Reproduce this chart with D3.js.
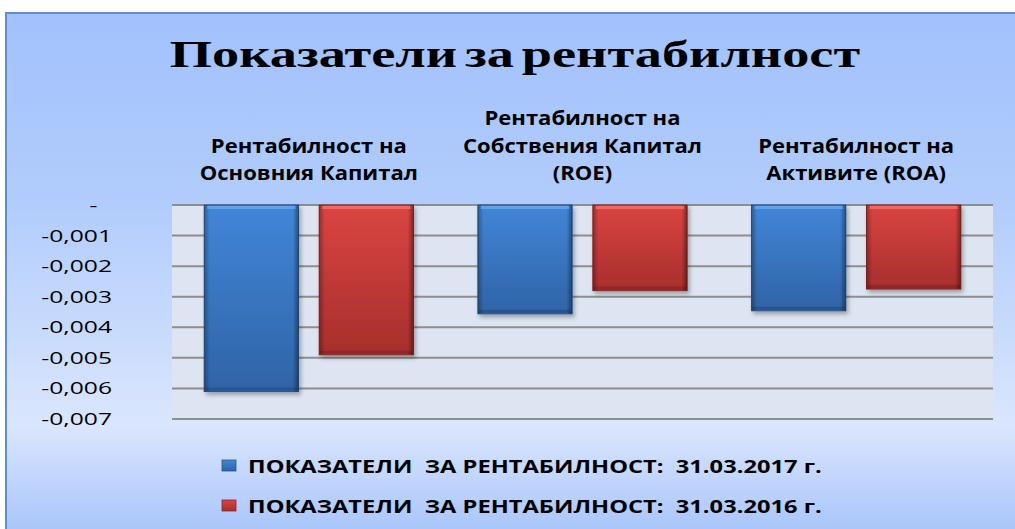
<!DOCTYPE html>
<html>
<head>
<meta charset="utf-8">
<script src="https://cdn.jsdelivr.net/npm/d3@7"></script>
<style>
  body { margin: 0; background: #fff; }
  text { font-family: "Open Sans", "Noto Sans", sans-serif; }
</style>
</head>
<body>
<div id="chart"></div>
<script>
// Chart data
const categories = ["Основния Капитал", "Собствения Капитал (ROE)", "Активите (ROA)"];
const categoryLines = [
  ["Рентабилност на", "Основния Капитал"],
  ["Рентабилност на", "Собствения Капитал", "(ROE)"],
  ["Рентабилност на", "Активите (ROA)"]
];
const seriesNames = [
  "ПОКАЗАТЕЛИ  ЗА РЕНТАБИЛНОСТ:  31.03.2017 г.",
  "ПОКАЗАТЕЛИ  ЗА РЕНТАБИЛНОСТ:  31.03.2016 г."
];
const values2017 = [-0.0061, -0.00356, -0.00346];
const values2016 = [-0.0049, -0.0028, -0.00275];
const yTicks = [0, -0.001, -0.002, -0.003, -0.004, -0.005, -0.006, -0.007];

var width = 1015, height = 529;
var margin = {top: 205, right: 22, bottom: 110, left: 172};
var plotW = width - margin.left - margin.right,
    plotH = height - margin.top - margin.bottom;

// The original picture is stretched sideways, so texts get a horizontal scale
function stretched(sel, x, y, sx) {
  return sel.attr("transform", "translate(" + x + "," + y + ") scale(" + sx + ",1)");
}

var svg = d3.select("#chart")
  .append("svg")
    .attr("width", width)
    .attr("height", height);

var defs = svg.append("defs");

// Background gradient of the chart area
var bg = defs.append("linearGradient")
    .attr("id", "bg").attr("x1", 0).attr("y1", 0).attr("x2", 0).attr("y2", 1);
[["0%", "#a2c1fc"], ["38%", "#b2cdfc"], ["80%", "#dae6fd"], ["100%", "#aac6fb"]]
  .forEach(s => bg.append("stop").attr("offset", s[0]).attr("stop-color", s[1]));

// Bar gradients
function barGradient(id, top, bottom) {
  var g = defs.append("linearGradient")
      .attr("id", id).attr("x1", 0).attr("y1", 0).attr("x2", 0).attr("y2", 1);
  g.append("stop").attr("offset", "0%").attr("stop-color", top);
  g.append("stop").attr("offset", "100%").attr("stop-color", bottom);
}
barGradient("gBlue", "#4186d8", "#2f63a6");
barGradient("gRed", "#da4542", "#a72e2c");

var edge = defs.append("linearGradient")
    .attr("id", "edge").attr("x1", 0).attr("y1", 0).attr("x2", 1).attr("y2", 0);
[["0%", 0.3], ["6%", 0.0], ["94%", 0.0], ["100%", 0.4]]
  .forEach(s => edge.append("stop").attr("offset", s[0])
    .attr("stop-color", "#000").attr("stop-opacity", s[1]));

var shadow = defs.append("filter").attr("id", "shadow")
    .attr("x", "-10%").attr("y", "-10%").attr("width", "130%").attr("height", "130%");
shadow.append("feDropShadow")
    .attr("dx", 2).attr("dy", 3).attr("stdDeviation", 2)
    .attr("flood-color", "#000").attr("flood-opacity", 0.3);

// Chart background with border
svg.append("rect")
    .attr("x", 5).attr("y", 12)
    .attr("width", width - 5).attr("height", height - 12)
    .attr("fill", "url(#bg)");
svg.append("path")
    .attr("d", "M6," + height + "V13H" + width)
    .attr("fill", "none")
    .attr("stroke", "#5b8fd0")
    .attr("stroke-width", 2);

// Title
stretched(svg.append("text"), 515, 67, 1.43)
    .attr("text-anchor", "middle")
    .style("font-family", "'Liberation Serif', serif")
    .style("font-weight", "bold")
    .style("font-size", "38px")
    .style("word-spacing", "-4px")
    .text("Показатели за рентабилност");

var g = svg.append("g")
    .attr("transform", "translate(" + margin.left + "," + margin.top + ")");

// Scales
var x0 = d3.scaleBand()
    .domain(categories)
    .range([0, plotW]);

var x1 = d3.scaleBand()
    .domain(seriesNames)
    .range([0, x0.bandwidth()])
    .paddingInner(0.18)
    .paddingOuter(0.28);

var y = d3.scaleLinear()
    .domain([0, -0.007])
    .range([0, plotH]);

// Plot area
g.append("rect")
    .attr("width", plotW).attr("height", plotH)
    .attr("fill", "#dce5f1");

// Gridlines
g.append("g")
  .selectAll("line")
  .data(yTicks)
  .join("line")
    .attr("x1", 0).attr("x2", plotW)
    .attr("y1", d => y(d)).attr("y2", d => y(d))
    .attr("stroke", "#8e8e8e")
    .attr("stroke-width", 2);

// Y axis labels
var loc = d3.formatLocale({decimal: ",", thousands: " ", grouping: [3], currency: ["", ""], minus: "-"});
var fmt = loc.format(".3f");
var yAxis = g.append("g")
    .attr("transform", "translate(-60,0)")
    .call(d3.axisLeft(y).tickValues(yTicks).tickSize(0).tickPadding(0)
      .tickFormat(d => d === 0 ? "-" : fmt(d)));
yAxis.select(".domain").remove();
yAxis.selectAll("text")
    .style("font-size", "17px")
    .attr("fill", "#000")
    .attr("transform", "scale(1.45,1)")
    .attr("dx", d => d === 0 ? -10 : 0);

// Category labels above the plot
var catG = g.append("g");
categories.forEach((c, i) => {
  var lines = categoryLines[i];
  lines.forEach((l, j) => {
    stretched(catG.append("text"), x0(c) + x0.bandwidth() / 2,
              -25 - (lines.length - 1 - j) * 27.5, 1.13)
      .attr("text-anchor", "middle")
      .style("font-weight", "bold")
      .style("font-size", "19.5px")
      .attr("fill", "#000")
      .text(l);
  });
});

// Bars
var data = categories.map((c, i) => ({
  cat: c,
  vals: [
    {series: seriesNames[0], value: values2017[i], fill: "url(#gBlue)", stroke: "#2a558f", hi: "#6aa6ec"},
    {series: seriesNames[1], value: values2016[i], fill: "url(#gRed)", stroke: "#8e2624", hi: "#f07370"}
  ]
}));

var groups = g.selectAll(".grp")
  .data(data)
  .join("g")
    .attr("class", "grp")
    .attr("transform", d => "translate(" + x0(d.cat) + ",0)");

var bars = groups.selectAll(".bar")
  .data(d => d.vals)
  .join("g")
    .attr("class", "bar");

bars.append("rect")
    .attr("x", d => x1(d.series))
    .attr("y", y(0))
    .attr("width", x1.bandwidth())
    .attr("height", d => y(d.value) - y(0))
    .attr("fill", d => d.fill)
    .attr("stroke", d => d.stroke)
    .attr("stroke-width", 1)
    .attr("filter", "url(#shadow)");

bars.append("rect")
    .attr("x", d => x1(d.series))
    .attr("y", y(0))
    .attr("width", x1.bandwidth())
    .attr("height", d => y(d.value) - y(0))
    .attr("fill", "url(#edge)");

bars.append("rect")
    .attr("x", d => x1(d.series) + 3)
    .attr("y", y(0) + 1)
    .attr("width", x1.bandwidth() - 6)
    .attr("height", 3)
    .attr("fill", d => d.hi)
    .attr("opacity", 0.8);

bars.append("rect")
    .attr("x", d => x1(d.series) + 1)
    .attr("y", d => y(d.value) - 4)
    .attr("width", x1.bandwidth() - 2)
    .attr("height", 3)
    .attr("fill", "#000")
    .attr("opacity", 0.15);

// Legend
var legendColors = [["url(#gBlue)", "#2a558f"], ["url(#gRed)", "#8e2624"]];
seriesNames.forEach((s, i) => {
  var row = svg.append("g").attr("transform", "translate(222," + (473 + i * 40) + ")");
  row.append("rect")
      .attr("x", 0).attr("y", -13)
      .attr("width", 14).attr("height", 11)
      .attr("fill", legendColors[i][0])
      .attr("stroke", legendColors[i][1])
      .attr("stroke-width", 0.8);
  stretched(row.append("text"), 26, 0, 1.33)
      .style("font-weight", "bold")
      .style("font-size", "17.8px")
      .style("white-space", "pre")
      .attr("fill", "#000")
      .text(s);
});
</script>
</body>
</html>
